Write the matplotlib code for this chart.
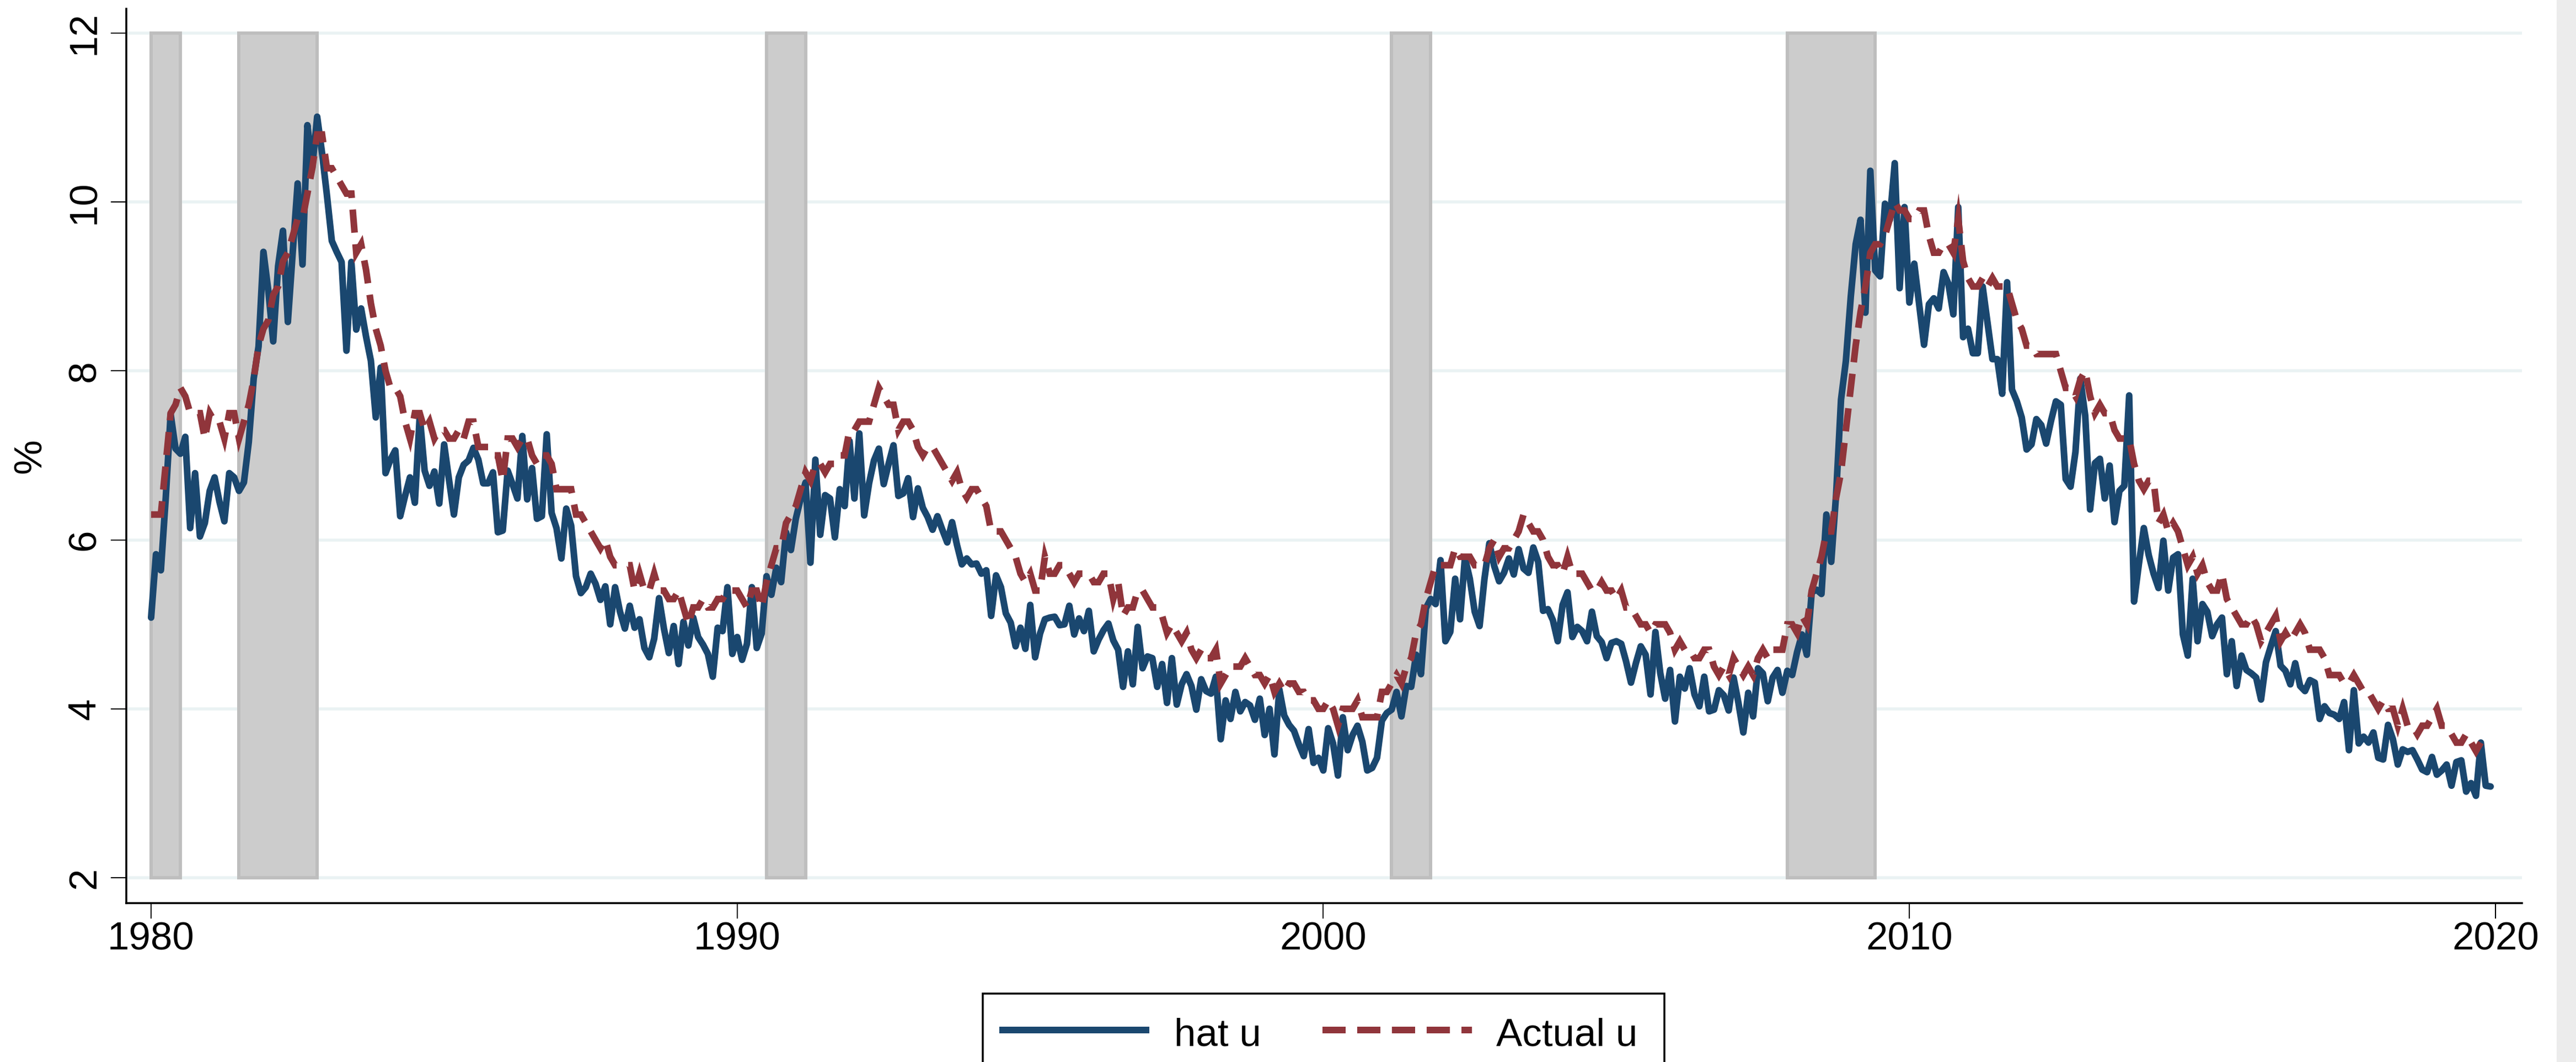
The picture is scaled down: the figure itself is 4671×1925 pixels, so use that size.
import numpy as np
import matplotlib
matplotlib.use("Agg")
import matplotlib.pyplot as plt
from matplotlib.lines import Line2D
from matplotlib.patches import Rectangle

# ---------------- data ----------------
start_year = 1980  # monthly data starting January 1980

hat_u = [
    5.08, 5.83, 5.64, 6.50, 7.49, 7.08, 7.02, 7.22, 6.14, 6.79, 6.04, 6.20,   # 1980
    6.58, 6.74, 6.45, 6.22, 6.79, 6.74, 6.58, 6.68, 7.16, 7.91, 8.29, 9.41,   # 1981
    8.95, 8.35, 9.24, 9.66, 8.58, 9.41, 10.22, 9.26, 10.91, 10.41, 11.01, 10.58,  # 1982
    10.08, 9.54, 9.41, 9.29, 8.24, 9.29, 8.49, 8.74, 8.41, 8.12, 7.45, 8.04,  # 1983
    6.79, 6.95, 7.06, 6.28, 6.52, 6.74, 6.44, 7.47, 6.82, 6.64, 6.81, 6.43,   # 1984
    7.13, 6.71, 6.30, 6.74, 6.89, 6.94, 7.09, 6.95, 6.67, 6.67, 6.80, 6.09,   # 1985
    6.11, 6.82, 6.66, 6.49, 7.23, 6.48, 6.85, 6.25, 6.28, 7.25, 6.32, 6.14,   # 1986
    5.78, 6.37, 6.17, 5.57, 5.37, 5.44, 5.60, 5.48, 5.29, 5.45, 5.00, 5.44,   # 1987
    5.15, 4.95, 5.22, 4.96, 5.06, 4.72, 4.61, 4.83, 5.31, 4.95, 4.66, 4.98,   # 1988
    4.53, 5.03, 4.75, 5.08, 4.85, 4.76, 4.65, 4.38, 4.96, 4.92, 5.44, 4.65,   # 1989
    4.85, 4.58, 4.77, 5.44, 4.72, 4.89, 5.57, 5.35, 5.67, 5.50, 6.09, 5.88,   # 1990
    6.25, 6.49, 6.68, 5.73, 6.95, 6.06, 6.53, 6.49, 6.03, 6.60, 6.40, 7.17,   # 1991
    6.49, 7.26, 6.29, 6.67, 6.94, 7.08, 6.66, 6.90, 7.12, 6.52, 6.55, 6.73,   # 1992
    6.27, 6.61, 6.38, 6.27, 6.12, 6.28, 6.12, 5.97, 6.21, 5.94, 5.71, 5.78,   # 1993
    5.71, 5.72, 5.60, 5.64, 5.10, 5.58, 5.44, 5.13, 5.02, 4.74, 4.96, 4.71,   # 1994
    5.23, 4.61, 4.89, 5.06, 5.08, 5.09, 4.99, 5.00, 5.22, 4.88, 5.07, 4.92,   # 1995
    5.16, 4.68, 4.82, 4.93, 5.01, 4.81, 4.70, 4.26, 4.68, 4.29, 4.97, 4.48,   # 1996
    4.62, 4.60, 4.26, 4.53, 4.07, 4.60, 4.05, 4.29, 4.41, 4.27, 3.99, 4.35,   # 1997
    4.21, 4.18, 4.38, 3.64, 4.10, 3.88, 4.20, 3.97, 4.08, 4.04, 3.87, 4.12,   # 1998
    3.69, 4.00, 3.46, 4.23, 3.92, 3.81, 3.74, 3.58, 3.44, 3.76, 3.36, 3.42,   # 1999
    3.27, 3.77, 3.59, 3.21, 3.90, 3.51, 3.69, 3.80, 3.61, 3.27, 3.30, 3.42,   # 2000
    3.86, 3.95, 3.99, 4.20, 3.91, 4.27, 4.26, 4.64, 4.41, 5.19, 5.30, 5.24,   # 2001
    5.76, 4.80, 4.91, 5.54, 5.06, 5.79, 5.54, 5.15, 4.98, 5.54, 5.96, 5.69,   # 2002
    5.51, 5.61, 5.78, 5.59, 5.89, 5.66, 5.61, 5.91, 5.74, 5.16, 5.18, 5.05,   # 2003
    4.80, 5.23, 5.38, 4.85, 4.97, 4.92, 4.80, 5.15, 4.86, 4.79, 4.60, 4.78,   # 2004
    4.80, 4.77, 4.56, 4.31, 4.54, 4.74, 4.64, 4.17, 4.91, 4.42, 4.12, 4.46,   # 2005
    3.85, 4.38, 4.24, 4.48, 4.17, 4.03, 4.38, 3.97, 3.99, 4.22, 4.16, 3.98,   # 2006
    4.37, 4.07, 3.72, 4.19, 3.91, 4.48, 4.42, 4.09, 4.37, 4.46, 4.19, 4.45,   # 2007
    4.40, 4.67, 4.88, 4.64, 5.38, 5.41, 5.36, 6.30, 5.74, 6.54, 7.66, 8.12,   # 2008
    8.88, 9.50, 9.79, 8.69, 10.37, 9.19, 9.12, 9.98, 9.79, 10.46, 8.98, 9.94,  # 2009
    8.81, 9.27, 8.79, 8.31, 8.79, 8.86, 8.74, 9.17, 9.03, 8.67, 9.94, 8.40,   # 2010
    8.50, 8.21, 8.21, 9.00, 8.57, 8.14, 8.14, 7.73, 9.05, 7.78, 7.64, 7.45,   # 2011
    7.07, 7.13, 7.43, 7.36, 7.14, 7.41, 7.64, 7.60, 6.72, 6.63, 7.04, 7.91,   # 2012
    7.47, 6.36, 6.91, 6.96, 6.49, 6.88, 6.21, 6.58, 6.64, 7.71, 5.27, 5.72,   # 2013
    6.14, 5.82, 5.60, 5.43, 5.99, 5.40, 5.79, 5.83, 4.88, 4.63, 5.54, 4.80,   # 2014
    5.24, 5.15, 4.86, 5.00, 5.08, 4.41, 4.80, 4.27, 4.63, 4.46, 4.42, 4.37,   # 2015
    4.11, 4.55, 4.74, 4.92, 4.51, 4.45, 4.29, 4.54, 4.27, 4.21, 4.34, 4.31,   # 2016
    3.88, 4.03, 3.95, 3.93, 3.88, 4.08, 3.51, 4.22, 3.59, 3.67, 3.60, 3.72,   # 2017
    3.42, 3.40, 3.81, 3.64, 3.34, 3.52, 3.49, 3.51, 3.40, 3.28, 3.25, 3.43,   # 2018
    3.22, 3.27, 3.34, 3.09, 3.37, 3.39, 3.02, 3.12, 2.97, 3.60, 3.09, 3.08,   # 2019
]

actual_u = [
    6.3, 6.3, 6.3, 6.9, 7.5, 7.6, 7.8, 7.7, 7.5, 7.5, 7.5, 7.2,   # 1980
    7.5, 7.4, 7.4, 7.2, 7.5, 7.5, 7.2, 7.4, 7.6, 7.9, 8.3, 8.5,   # 1981
    8.6, 8.9, 9.0, 9.3, 9.4, 9.6, 9.8, 9.8, 10.1, 10.4, 10.8, 10.8,  # 1982
    10.4, 10.4, 10.3, 10.2, 10.1, 10.1, 9.4, 9.5, 9.2, 8.8, 8.5, 8.3,  # 1983
    8.0, 7.8, 7.8, 7.7, 7.4, 7.2, 7.5, 7.5, 7.3, 7.4, 7.2, 7.3,   # 1984
    7.3, 7.2, 7.2, 7.3, 7.2, 7.4, 7.4, 7.1, 7.1, 7.1, 7.0, 7.0,   # 1985
    6.7, 7.2, 7.2, 7.1, 7.2, 7.2, 7.0, 6.9, 7.0, 7.0, 6.9, 6.6,   # 1986
    6.6, 6.6, 6.6, 6.3, 6.3, 6.2, 6.1, 6.0, 5.9, 6.0, 5.8, 5.7,   # 1987
    5.7, 5.7, 5.7, 5.4, 5.6, 5.4, 5.4, 5.6, 5.4, 5.4, 5.3, 5.3,   # 1988
    5.4, 5.2, 5.0, 5.2, 5.2, 5.3, 5.2, 5.2, 5.3, 5.3, 5.4, 5.4,   # 1989
    5.4, 5.3, 5.2, 5.4, 5.4, 5.2, 5.5, 5.7, 5.9, 5.9, 6.2, 6.3,   # 1990
    6.4, 6.6, 6.8, 6.7, 6.9, 6.9, 6.8, 6.9, 6.9, 7.0, 7.0, 7.3,   # 1991
    7.3, 7.4, 7.4, 7.4, 7.6, 7.8, 7.7, 7.6, 7.6, 7.3, 7.4, 7.4,   # 1992
    7.3, 7.1, 7.0, 7.1, 7.1, 7.0, 6.9, 6.8, 6.7, 6.8, 6.6, 6.5,   # 1993
    6.6, 6.6, 6.5, 6.4, 6.1, 6.1, 6.1, 6.0, 5.9, 5.8, 5.6, 5.5,   # 1994
    5.6, 5.4, 5.4, 5.8, 5.6, 5.6, 5.7, 5.7, 5.6, 5.5, 5.6, 5.6,   # 1995
    5.6, 5.5, 5.5, 5.6, 5.6, 5.3, 5.5, 5.1, 5.2, 5.2, 5.4, 5.4,   # 1996
    5.3, 5.2, 5.2, 5.1, 4.9, 5.0, 4.9, 4.8, 4.9, 4.7, 4.6, 4.7,   # 1997
    4.6, 4.6, 4.7, 4.3, 4.4, 4.5, 4.5, 4.5, 4.6, 4.5, 4.4, 4.4,   # 1998
    4.3, 4.4, 4.2, 4.3, 4.2, 4.3, 4.3, 4.2, 4.2, 4.1, 4.1, 4.0,   # 1999
    4.0, 4.1, 4.0, 3.8, 4.0, 4.0, 4.0, 4.1, 3.9, 3.9, 3.9, 3.9,   # 2000
    4.2, 4.2, 4.3, 4.4, 4.3, 4.5, 4.6, 4.9, 5.0, 5.3, 5.5, 5.7,   # 2001
    5.7, 5.7, 5.7, 5.9, 5.8, 5.8, 5.8, 5.7, 5.7, 5.7, 5.9, 6.0,   # 2002
    5.8, 5.9, 5.9, 6.0, 6.1, 6.3, 6.2, 6.1, 6.1, 6.0, 5.8, 5.7,   # 2003
    5.7, 5.6, 5.8, 5.6, 5.6, 5.6, 5.5, 5.4, 5.4, 5.5, 5.4, 5.4,   # 2004
    5.3, 5.4, 5.2, 5.2, 5.1, 5.0, 5.0, 4.9, 5.0, 5.0, 5.0, 4.9,   # 2005
    4.7, 4.8, 4.7, 4.7, 4.6, 4.6, 4.7, 4.7, 4.5, 4.4, 4.5, 4.4,   # 2006
    4.6, 4.5, 4.4, 4.5, 4.4, 4.6, 4.7, 4.6, 4.7, 4.7, 4.7, 5.0,   # 2007
    5.0, 4.9, 5.1, 5.0, 5.4, 5.6, 5.8, 6.1, 6.1, 6.5, 6.8, 7.3,   # 2008
    7.8, 8.3, 8.7, 9.0, 9.4, 9.5, 9.5, 9.6, 9.8, 10.0, 9.9, 9.9,  # 2009
    9.8, 9.8, 9.9, 9.9, 9.6, 9.4, 9.4, 9.5, 9.5, 9.4, 9.8, 9.3,   # 2010
    9.1, 9.0, 9.0, 9.1, 9.0, 9.1, 9.0, 9.0, 9.0, 8.8, 8.6, 8.5,   # 2011
    8.3, 8.3, 8.2, 8.2, 8.2, 8.2, 8.2, 8.0, 7.8, 7.8, 7.7, 7.9,   # 2012
    8.0, 7.7, 7.5, 7.6, 7.5, 7.5, 7.3, 7.2, 7.2, 7.2, 6.9, 6.7,   # 2013
    6.6, 6.7, 6.7, 6.2, 6.3, 6.1, 6.2, 6.1, 5.9, 5.7, 5.8, 5.6,   # 2014
    5.7, 5.5, 5.4, 5.4, 5.6, 5.3, 5.2, 5.1, 5.0, 5.0, 5.1, 5.0,   # 2015
    4.8, 4.9, 5.0, 5.1, 4.8, 4.9, 4.8, 4.9, 5.0, 4.9, 4.7, 4.7,   # 2016
    4.7, 4.6, 4.4, 4.4, 4.4, 4.3, 4.3, 4.4, 4.3, 4.2, 4.2, 4.1,   # 2017
    4.0, 4.1, 4.0, 4.0, 3.8, 4.0, 3.8, 3.8, 3.7, 3.8, 3.8, 3.9,   # 2018
    4.0, 3.8, 3.8, 3.7, 3.6, 3.6, 3.7, 3.6, 3.5, 3.6,             # 2019 (Jan-Oct)
]

# NBER recessions (year, month) start / end
rec_start = [(1980, 1), (1981, 7), (1990, 7), (2001, 3), (2007, 12)]
rec_end = [(1980, 7), (1982, 11), (1991, 3), (2001, 11), (2009, 6)]

x_ticks = [1980, 1990, 2000, 2010, 2020]
y_ticks = [2, 4, 6, 8, 10, 12]
series_labels = ["hat u", "Actual u"]
y_title = "%"

# ---------------- styling ----------------
W, H, DPI = 4671, 1925, 100
PT = 72.0 / DPI  # points per pixel

BLUE = "#1a476f"
RED = "#90353b"
BAR_FILL = "#cccccc"
BAR_EDGE = "#bebebe"
GRID = "#eaf2f3"
EDGE_STRIP = "#ececec"

FONT = ["Liberation Sans", "DejaVu Sans"]
FS = 51

plt.rcParams["font.family"] = FONT

fig = plt.figure(figsize=(W / DPI, H / DPI), dpi=DPI, facecolor="white")

L, R, T, B = 229, 4573, 16, 1637
ax = fig.add_axes([L / W, 1 - B / H, (R - L) / W, (B - T) / H])

def ym(y, m):
    return y + (m - 1) / 12.0

x_hat = start_year + np.arange(len(hat_u)) / 12.0
x_act = start_year + np.arange(len(actual_u)) / 12.0

# recession shading
for s, e in zip(rec_start, rec_end):
    xs, xe = ym(*s), ym(*e)
    ax.bar(xs, 10, bottom=2, width=xe - xs, align="edge",
           color=BAR_FILL, edgecolor=BAR_EDGE, linewidth=6 * PT, zorder=1)

lw = 12 * PT
ax.plot(x_hat, hat_u, color=BLUE, lw=lw, solid_joinstyle="round",
        solid_capstyle="round", zorder=3)
ax.plot(x_act, actual_u, color=RED, lw=lw, linestyle=(0, (3.5, 1.75)),
        dash_capstyle="butt", dash_joinstyle="miter", zorder=4)

# axes limits
px_per_year = (4525 - 274) / 40.0
px_per_unit = (1591 - 60) / 10.0
ax.set_xlim(1980 - (274 - L) / px_per_year, 1980 + (R - 274) / px_per_year)
ax.set_ylim(2 - (B - 1591) / px_per_unit, 12 + (60 - T) / px_per_unit)

ax.set_xticks(x_ticks)
ax.set_yticks(y_ticks)
ax.set_xticklabels([str(t) for t in x_ticks])
ax.set_yticklabels([str(t) for t in y_ticks])

ax.set_axisbelow(True)
ax.yaxis.grid(True, color=GRID, linewidth=5.5 * PT)
ax.xaxis.grid(False)

for side in ["top", "right"]:
    ax.spines[side].set_visible(False)
for side in ["left", "bottom"]:
    ax.spines[side].set_linewidth(3.5 * PT)
    ax.spines[side].set_color("black")

ax.tick_params(axis="both", direction="out", length=28 * PT, width=2 * PT,
               color="black", labelsize=FS)
ax.tick_params(axis="x", pad=6 * PT)
ax.tick_params(axis="y", pad=14 * PT, labelrotation=90)
for lab in ax.get_yticklabels():
    lab.set_va("center")

ax.set_ylabel(y_title, fontsize=FS, rotation=90)
ax.yaxis.set_label_coords((89 - L) / (R - L), 0.5)

# ---------------- legend (drawn in figure pixel coordinates) ----------------
def fx(x):
    return x / W

def fy(y):
    return 1 - y / H

leg_box = Rectangle((fx(1782), fy(1965)), (3018 - 1782) / W, (1965 - 1801) / H,
                    transform=fig.transFigure, facecolor="white",
                    edgecolor="black", linewidth=3.5 * PT, zorder=5)
fig.add_artist(leg_box)
ly = 1867
fig.add_artist(Line2D([fx(1812), fx(2084)], [fy(ly), fy(ly)],
                      transform=fig.transFigure, color=BLUE, lw=lw,
                      solid_capstyle="butt", zorder=6))
fig.add_artist(Line2D([fx(2398), fx(2669)], [fy(ly), fy(ly)],
                      transform=fig.transFigure, color=RED, lw=lw,
                      linestyle=(0, (3.5, 1.75)), dash_capstyle="butt", zorder=6))
fig.text(fx(2129), fy(1895), series_labels[0], fontsize=FS, ha="left",
         va="baseline", zorder=7)
fig.text(fx(2713), fy(1895), series_labels[1], fontsize=FS, ha="left",
         va="baseline", zorder=7)

# light strip along the right edge of the image
fig.add_artist(Rectangle((fx(4636), 0), (W - 4636) / W, 1,
                         transform=fig.transFigure, facecolor=EDGE_STRIP,
                         edgecolor="none", zorder=0))

fig.savefig("out.png", dpi=DPI, facecolor="white")
